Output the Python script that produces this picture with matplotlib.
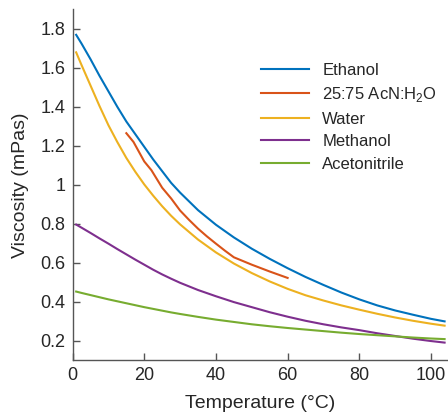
import matplotlib
matplotlib.use("Agg")
import matplotlib.pyplot as plt
from matplotlib.ticker import FuncFormatter

plt.rcParams["font.family"] = ["Liberation Sans", "DejaVu Sans"]
plt.rcParams["mathtext.fontset"] = "custom"
plt.rcParams["mathtext.rm"] = "Liberation Sans"

# temperature grid (deg C) shared by the four pure solvents
temp = [1, 2.5, 5, 7.5, 10, 12.5, 15, 17.5, 20, 22.5, 25, 27.5, 30, 35, 40, 45,
        50, 55, 60, 65, 70, 75, 80, 85, 90, 95, 100, 103.8]
ethanol = [1.77, 1.725, 1.645, 1.56, 1.48, 1.40, 1.325, 1.26, 1.195, 1.13, 1.07,
           1.01, 0.96, 0.87, 0.795, 0.73, 0.672, 0.62, 0.572, 0.527, 0.486, 0.447,
           0.412, 0.381, 0.355, 0.333, 0.312, 0.299]
water = [1.68, 1.615, 1.51, 1.405, 1.306, 1.219, 1.138, 1.067, 1.002, 0.944, 0.89,
         0.841, 0.797, 0.719, 0.653, 0.596, 0.547, 0.504, 0.466, 0.433, 0.406, 0.381,
         0.359, 0.338, 0.319, 0.302, 0.287, 0.277]
methanol = [0.796, 0.78, 0.753, 0.725, 0.698, 0.67, 0.643, 0.616, 0.59, 0.564,
            0.54, 0.518, 0.497, 0.46, 0.428, 0.398, 0.372, 0.346, 0.323, 0.302,
            0.284, 0.268, 0.254, 0.238, 0.224, 0.21, 0.198, 0.19]
acetonitrile = [0.452, 0.445, 0.434, 0.423, 0.412, 0.402, 0.392, 0.382, 0.372,
                0.363, 0.354, 0.345, 0.337, 0.322, 0.308, 0.296, 0.284, 0.274,
                0.265, 0.257, 0.249, 0.241, 0.234, 0.228, 0.222, 0.216, 0.211, 0.208]

# measured mixture, only 15-60 deg C
mix_temp = [15, 17, 20, 22, 25, 27.5, 30, 32.5, 35, 37.5, 40, 42.5, 45, 50, 55, 60]
mix = [1.265, 1.22, 1.12, 1.075, 0.985, 0.93, 0.868, 0.82, 0.775, 0.735, 0.698,
       0.662, 0.628, 0.59, 0.555, 0.522]

series = [
    ("Ethanol", temp, ethanol, "#0072BD"),
    ("25:75 AcN:H$_2$O", mix_temp, mix, "#D95319"),
    ("Water", temp, water, "#EDB120"),
    ("Methanol", temp, methanol, "#7E2F8E"),
    ("Acetonitrile", temp, acetonitrile, "#77AC30"),
]

txt = "#262626"
fig = plt.figure(figsize=(4.48, 4.13), dpi=100)
ax = fig.add_axes([0.162, 0.128, 0.836, 0.849])

for label, x, y, c in series:
    ax.plot(x, y, color=c, lw=1.5, label=label)

ax.set_xlim(0, 104.5)
ax.set_ylim(0.1, 1.9)
ax.set_xticks([0, 20, 40, 60, 80, 100])
ax.set_yticks([0.2, 0.4, 0.6, 0.8, 1.0, 1.2, 1.4, 1.6, 1.8])
ax.yaxis.set_major_formatter(FuncFormatter(lambda v, _: f"{v:g}"))

for s in ("top", "right"):
    ax.spines[s].set_visible(False)
for s in ("left", "bottom"):
    ax.spines[s].set_color("#555555")
    ax.spines[s].set_linewidth(1.0)
ax.tick_params(direction="in", length=5, width=1.0, color="#555555",
               labelsize=13, labelcolor=txt, pad=5)

ax.set_xlabel("Temperature (°C)", fontsize=14, color=txt, labelpad=8)
ax.set_ylabel("Viscosity (mPas)", fontsize=14, color=txt, labelpad=8)

leg = ax.legend(loc="upper right", bbox_to_anchor=(1.0, 0.877), frameon=False,
                fontsize=12, handlelength=2.9, handletextpad=0.8,
                labelspacing=0.45, borderaxespad=0.2)
for t in leg.get_texts():
    t.set_color(txt)

fig.savefig("out.png", dpi=100)
